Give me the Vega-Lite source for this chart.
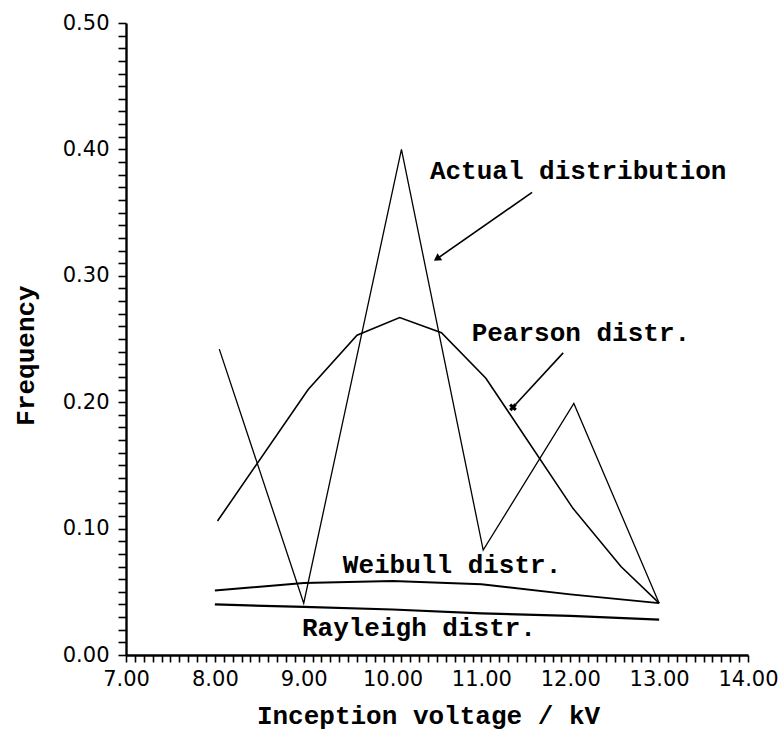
{
  "$schema": "https://vega.github.io/schema/vega-lite/v6.json",
  "autosize": {"type": "none"},
  "width": 622,
  "height": 632,
  "padding": {"left": 126, "top": 23, "right": 30, "bottom": 75},
  "background": "white",
  "config": {
    "view": {"stroke": null},
    "axis": {
      "grid": false,
      "domainColor": "black",
      "domainWidth": 2.4,
      "tickColor": "black",
      "tickWidth": 1.6,
      "labelColor": "black",
      "labelFont": "DejaVu Sans",
      "labelFontWeight": "normal",
      "labelFontSize": 21,
      "labelOverlap": false,
      "labelFlush": false,
      "titleColor": "black",
      "titleFont": "Liberation Mono",
      "titleFontWeight": "bold",
      "titleFontSize": 26
    }
  },
  "datasets": {
    "curves": [
      {"series": "Actual", "voltage": 8.05, "frequency": 0.242},
      {"series": "Actual", "voltage": 9.0, "frequency": 0.041},
      {"series": "Actual", "voltage": 10.1, "frequency": 0.4},
      {"series": "Actual", "voltage": 11.02, "frequency": 0.083},
      {"series": "Actual", "voltage": 12.04, "frequency": 0.199},
      {"series": "Actual", "voltage": 13.0, "frequency": 0.041},
      {"series": "Pearson", "voltage": 8.03, "frequency": 0.106},
      {"series": "Pearson", "voltage": 9.05, "frequency": 0.21},
      {"series": "Pearson", "voltage": 9.6, "frequency": 0.253},
      {"series": "Pearson", "voltage": 10.08, "frequency": 0.267},
      {"series": "Pearson", "voltage": 10.55, "frequency": 0.255},
      {"series": "Pearson", "voltage": 11.05, "frequency": 0.219},
      {"series": "Pearson", "voltage": 12.03, "frequency": 0.116},
      {"series": "Pearson", "voltage": 12.57, "frequency": 0.07},
      {"series": "Pearson", "voltage": 13.0, "frequency": 0.041},
      {"series": "Weibull", "voltage": 8.0, "frequency": 0.051},
      {"series": "Weibull", "voltage": 9.0, "frequency": 0.057},
      {"series": "Weibull", "voltage": 10.0, "frequency": 0.0585},
      {"series": "Weibull", "voltage": 11.0, "frequency": 0.056},
      {"series": "Weibull", "voltage": 12.0, "frequency": 0.048},
      {"series": "Weibull", "voltage": 13.0, "frequency": 0.041},
      {"series": "Rayleigh", "voltage": 8.0, "frequency": 0.04},
      {"series": "Rayleigh", "voltage": 9.0, "frequency": 0.038},
      {"series": "Rayleigh", "voltage": 10.0, "frequency": 0.036},
      {"series": "Rayleigh", "voltage": 11.0, "frequency": 0.033},
      {"series": "Rayleigh", "voltage": 12.0, "frequency": 0.031},
      {"series": "Rayleigh", "voltage": 13.0, "frequency": 0.028}
    ],
    "labels": [
      {"label": "Actual distribution", "voltage": 10.42, "frequency": 0.383},
      {"label": "Pearson distr.", "voltage": 10.89, "frequency": 0.255},
      {"label": "Weibull distr.", "voltage": 9.44, "frequency": 0.071},
      {"label": "Rayleigh distr.", "voltage": 8.98, "frequency": 0.021}
    ],
    "arrows": [
      {"arrow": "actual", "voltage": 11.57, "frequency": 0.366, "voltage2": 10.51, "frequency2": 0.314},
      {"arrow": "pearson", "voltage": 11.92, "frequency": 0.239, "voltage2": 11.355, "frequency2": 0.196}
    ]
  },
  "layer": [
    {
      "data": {"name": "curves"},
      "mark": {"type": "line", "color": "black", "strokeJoin": "miter"},
      "encoding": {
        "x": {
          "field": "voltage",
          "type": "quantitative",
          "scale": {"domain": [7, 14], "nice": false, "zero": false},
          "title": "Inception voltage / kV",
          "axis": {
            "tickCount": 70,
            "tickSize": 7,
            "labelPadding": 6,
            "labelExpr": "abs(datum.value - round(datum.value)) < 0.001 ? format(datum.value, '.2f') : ''",
            "titleX": 302,
            "titleY": 60,
            "titleBaseline": "middle",
            "encode": {
              "ticks": {"update": {"y2": {"signal": "abs(datum.value - round(datum.value)) < 0.001 ? 10 : 6"}}}
            }
          }
        },
        "y": {
          "field": "frequency",
          "type": "quantitative",
          "scale": {"domain": [0, 0.5], "nice": false},
          "title": "Frequency",
          "axis": {
            "tickCount": 50,
            "tickSize": 8,
            "labelPadding": 9,
            "labelExpr": "abs(datum.value * 10 - round(datum.value * 10)) < 0.001 ? format(datum.value, '.2f') : ''",
            "titleX": -101,
            "titleY": 332,
            "titleAlign": "center",
            "titleBaseline": "middle",
            "encode": {
              "ticks": {"update": {"x2": {"signal": "abs(datum.value * 10 - round(datum.value * 10)) < 0.001 ? -10 : -7"}}}
            }
          }
        },
        "detail": {"field": "series", "type": "nominal"},
        "strokeWidth": {
          "field": "series",
          "type": "nominal",
          "scale": {"domain": ["Actual", "Pearson", "Weibull", "Rayleigh"], "range": [1.3, 2.2, 3, 3]},
          "legend": null
        }
      }
    },
    {
      "data": {"name": "labels"},
      "mark": {
        "type": "text",
        "align": "left",
        "baseline": "middle",
        "font": "Liberation Mono",
        "fontWeight": "bold",
        "fontSize": 26,
        "color": "black"
      },
      "encoding": {
        "x": {"field": "voltage", "type": "quantitative"},
        "y": {"field": "frequency", "type": "quantitative"},
        "text": {"field": "label"}
      }
    },
    {
      "data": {"name": "arrows"},
      "mark": {"type": "rule", "color": "black", "strokeWidth": 1.6},
      "encoding": {
        "x": {"field": "voltage", "type": "quantitative"},
        "y": {"field": "frequency", "type": "quantitative"},
        "x2": {"field": "voltage2"},
        "y2": {"field": "frequency2"}
      }
    },
    {
      "data": {"name": "arrows"},
      "transform": [{"filter": "datum.arrow == 'actual'"}],
      "mark": {"type": "point", "shape": "triangle", "filled": true, "color": "black", "size": 70, "angle": 235, "opacity": 1},
      "encoding": {
        "x": {"field": "voltage2", "type": "quantitative"},
        "y": {"field": "frequency2", "type": "quantitative"}
      }
    },
    {
      "data": {"name": "arrows"},
      "transform": [{"filter": "datum.arrow == 'pearson'"}],
      "mark": {"type": "point", "shape": "cross", "filled": true, "color": "black", "size": 60, "angle": 43, "opacity": 1},
      "encoding": {
        "x": {"field": "voltage2", "type": "quantitative"},
        "y": {"field": "frequency2", "type": "quantitative"}
      }
    }
  ]
}
